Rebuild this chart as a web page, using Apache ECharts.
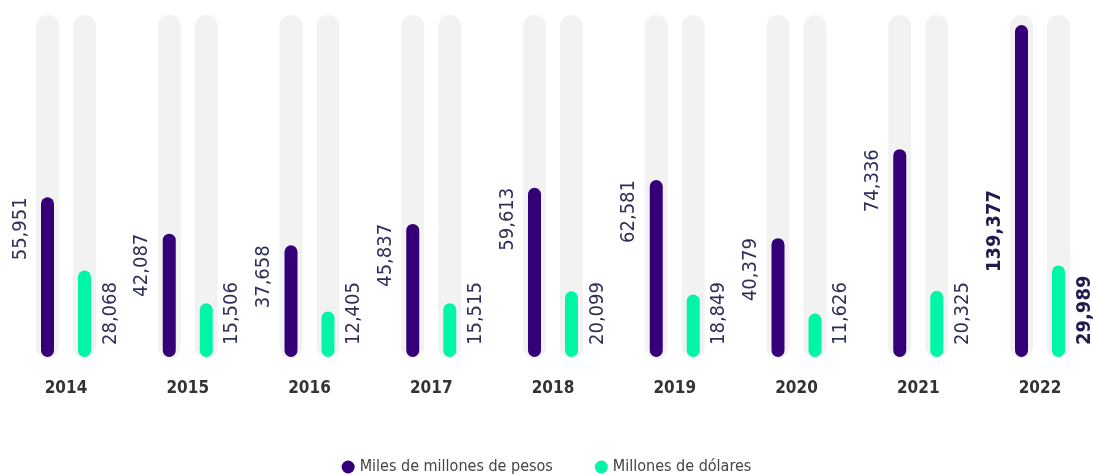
<!DOCTYPE html>
<html>
<head>
<meta charset="utf-8">
<script src="https://cdn.jsdelivr.net/npm/echarts@6/dist/echarts.min.js"></script>
<style>
  html, body { margin: 0; padding: 0; background: #fff; }
  #chart { width: 1093px; height: 475px; }
</style>
</head>
<body>
<div id="chart"></div>
<script>
var years = ['2014', '2015', '2016', '2017', '2018', '2019', '2020', '2021', '2022'];
var pesos = [55951, 42087, 37658, 45837, 59613, 62581, 40379, 74336, 139377];
var dolares = [28068, 15506, 12405, 15515, 20099, 18849, 11626, 20325, 29989];

var FONT = "'Liberation Sans Narrow', 'DejaVu Sans Condensed', 'Roboto', sans-serif";
var yMax = 130500; // tope de la pista gris
var lastIdx = years.length - 1;

var chart = echarts.init(document.getElementById('chart'));

// pista gris + barra redondeada + etiqueta girada
function makeRender(offset, color, labelSide) {
	return function (params, api) {
		var idx = api.value(0);
		var v = api.value(1);
		var p0 = api.coord([idx, 0]);
		var pTop = api.coord([idx, yMax]);
		var pv = api.coord([idx, v]);
		var cx = p0[0] + offset;
		var y0 = p0[1];
		var trackTop = pTop[1];
		var barTop = Math.max(pv[1] - 13, trackTop + 10);
		var bold = idx === lastIdx;
		var label = {
			type: 'text',
			rotation: Math.PI / 2,
			style: {
				text: v.toLocaleString('en-US'),
				fill: bold ? '#1f1b4f' : '#2f2f5a',
				fontSize: 20,
				fontWeight: bold ? 'bold' : 'normal',
				fontFamily: FONT,
				verticalAlign: 'middle'
			}
		};
		if (labelSide === 'left') {
			label.x = cx - 27;
			label.y = bold ? y0 - 167 : barTop;
			label.style.align = 'right';
		} else {
			label.x = cx + 26;
			label.y = y0 - 12;
			label.style.align = 'left';
		}
		return {
			type: 'group',
			children: [
				{
					type: 'rect',
					shape: { x: cx - 11.5, y: trackTop, width: 23, height: y0 + 1 - trackTop, r: 11.5 },
					style: { fill: '#f2f2f2' }
				},
				{
					type: 'rect',
					shape: { x: cx - 6.5, y: barTop, width: 13, height: y0 - barTop, r: 6.5 },
					style: { fill: color }
				},
				label
			]
		};
	};
}

option = {
	animation: false,
	grid: {
		left: 66,
		right: 53,
		top: 357 - 342,
		bottom: 475 - 357
	},
	legend: {
		data: ['Miles de millones de pesos', 'Millones de dólares'],
		icon: 'circle',
		itemWidth: 13,
		itemHeight: 13,
		itemGap: 42,
		top: 454,
		left: 'center',
		textStyle: { fontSize: 16, color: '#444', fontFamily: FONT }
	},
	xAxis: {
		type: 'category',
		data: years,
		boundaryGap: false,
		axisLine: { show: false },
		axisTick: { show: false },
		axisLabel: {
			margin: 23,
			fontSize: 17,
			fontWeight: 'bold',
			color: '#333',
			fontFamily: FONT
		}
	},
	yAxis: {
		type: 'value',
		min: 0,
		max: yMax,
		show: false,
		splitLine: { show: false }
	},
	series: [
		{
			name: 'Miles de millones de pesos',
			type: 'custom',
			itemStyle: { color: '#330077' },
			renderItem: makeRender(-18.5, '#330077', 'left'),
			data: pesos.map(function (v, i) { return [i, v]; })
		},
		{
			name: 'Millones de dólares',
			type: 'custom',
			itemStyle: { color: '#00f5a6' },
			renderItem: makeRender(18.5, '#00f5a6', 'right'),
			data: dolares.map(function (v, i) { return [i, v]; })
		}
	]
};
chart.setOption(option);
</script>
</body>
</html>
